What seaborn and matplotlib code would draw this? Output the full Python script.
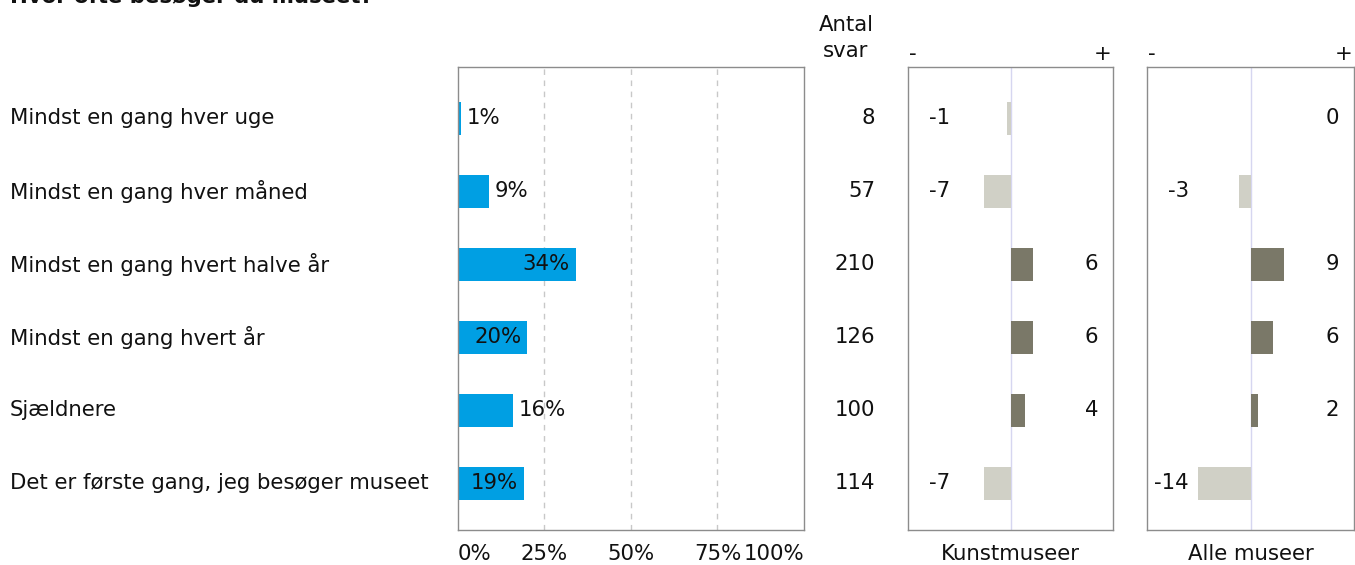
import matplotlib
matplotlib.use("Agg")
import matplotlib.pyplot as plt
import matplotlib.transforms as mtransforms
import seaborn as sns
import pandas as pd
import numpy as np

categories = ["Mindst en gang hver uge", "Mindst en gang hver måned",
              "Mindst en gang hvert halve år", "Mindst en gang hvert år",
              "Sjældnere", "Det er første gang, jeg besøger museet"]
shares = [1, 9, 34, 20, 16, 19]
counts = [8, 57, 210, 126, 100, 114]
diff_kunst = [-1, -7, 6, 6, 4, -7]
diff_alle = [0, -3, 9, 6, 2, -14]
x_ticks = [0, 25, 50, 75, 100]
x_tick_labels = ["0%", "25%", "50%", "75%", "100%"]
title = "Hvor ofte besøger du museet?"
count_header = ["Antal", "svar"]
panel_titles = ["Kunstmuseer", "Alle museer"]

BLUE = "#009fe3"
POS = "#7a7868"
NEG = "#d0d0c6"
SPINE = "#8c8c8c"
FS = 15.3

W, H = 1355, 565
sns.set_theme(style="white")
plt.rcParams['font.family'] = ['DejaVu Sans']
fig = plt.figure(figsize=(W / 100, H / 100), dpi=100)


def px_axes(l, t, r, b):
    return fig.add_axes([l / W, 1 - b / H, (r - l) / W, (b - t) / H])


ax = px_axes(458, 67, 804, 530)
ax_k = px_axes(908, 67, 1113, 530)
ax_a = px_axes(1147, 67, 1354, 530)

df = pd.DataFrame({"cat": categories, "share": shares, "count": counts,
                   "k": diff_kunst, "a": diff_alle})
df["k_sign"] = np.where(df["k"] < 0, "neg", "pos")
df["a_sign"] = np.where(df["a"] < 0, "neg", "pos")

YLIM = (5.64, -0.70)
BW = 0.45

# main bars
sns.barplot(data=df, x="share", y="cat", color=BLUE, width=BW, saturation=1,
            ax=ax, edgecolor="none", linewidth=0)
ax.set_xlim(0, 100)
ax.set_ylim(*YLIM)
ax.set_ylabel("")
ax.set_xlabel("")
ax.set_yticks([])
for x in x_ticks[1:-1]:
    ax.axvline(x, color="#c8c8c8", linestyle=(0, (4, 4)), linewidth=1, zorder=0)
ax.set_xticks(x_ticks)
ax.set_xticklabels(x_tick_labels, fontsize=FS)
ax.tick_params(axis="x", length=0, pad=10, colors="#111111")
labs = ax.get_xticklabels()
labs[0].set_ha("left")
labs[-1].set_ha("right")
for s in ax.spines.values():
    s.set_color(SPINE)
    s.set_linewidth(1)

for i, v in enumerate(shares):
    if v >= 18:
        ax.annotate(f"{v}%", xy=(v, i), xytext=(-4.3, 0), textcoords="offset points",
                    ha="right", va="center", fontsize=FS, color="#111111")
    else:
        ax.annotate(f"{v}%", xy=(v, i), xytext=(3.6, 0), textcoords="offset points",
                    ha="left", va="center", fontsize=FS, color="#111111")

# category labels and counts
tr = mtransforms.blended_transform_factory(fig.transFigure, ax.transData)
for i, c in enumerate(categories):
    ax.text(10 / W, i, c, transform=tr, ha="left", va="center", fontsize=FS, color="#111111")
    ax.text(875 / W, i, str(counts[i]), transform=tr, ha="right", va="center",
            fontsize=FS, color="#111111")

fig.text(846 / W, 1 - 31 / H, count_header[0], ha="center", va="baseline", fontsize=FS, color="#111111")
fig.text(846 / W, 1 - 57 / H, count_header[1], ha="center", va="baseline", fontsize=FS, color="#111111")

fig.text(10 / W, 1 - 3 / H, title, ha="left", va="baseline", fontsize=FS,
         fontweight="bold", color="#111111")

# diff panels
for a, col, vals, ttl in [(ax_k, "k", diff_kunst, panel_titles[0]),
                          (ax_a, "a", diff_alle, panel_titles[1])]:
    sns.barplot(data=df, x=col, y="cat", hue=col + "_sign",
                palette={"neg": NEG, "pos": POS}, dodge=False, legend=False,
                width=BW, saturation=1, ax=a, edgecolor="none", linewidth=0)
    a.set_xlim(-27.5, 27.5)
    a.set_ylim(*YLIM)
    a.axvline(0, color="#d6d6f0", linewidth=1, zorder=0)
    a.set_yticks([])
    a.set_xticks([])
    a.set_ylabel("")
    a.set_xlabel(ttl, fontsize=FS, labelpad=10, color="#111111")
    for s in a.spines.values():
        s.set_color(SPINE)
        s.set_linewidth(1)
    for i, v in enumerate(vals):
        if v < 0:
            a.annotate(str(v), xy=(0, i), xycoords=("axes fraction", "data"),
                       xytext=(30.2, 0), textcoords="offset points",
                       ha="right", va="center", fontsize=FS, color="#111111")
        else:
            a.annotate(str(v), xy=(1, i), xycoords=("axes fraction", "data"),
                       xytext=(-10.5, 0), textcoords="offset points",
                       ha="right", va="center", fontsize=FS, color="#111111")
    a.annotate("-", xy=(0, 1), xycoords="axes fraction", xytext=(1, 2),
               textcoords="offset points", ha="left", va="bottom", fontsize=FS, color="#111111")
    a.annotate("+", xy=(1, 1), xycoords="axes fraction", xytext=(-1, 2),
               textcoords="offset points", ha="right", va="bottom", fontsize=FS, color="#111111")

fig.savefig("out.png", dpi=100)
